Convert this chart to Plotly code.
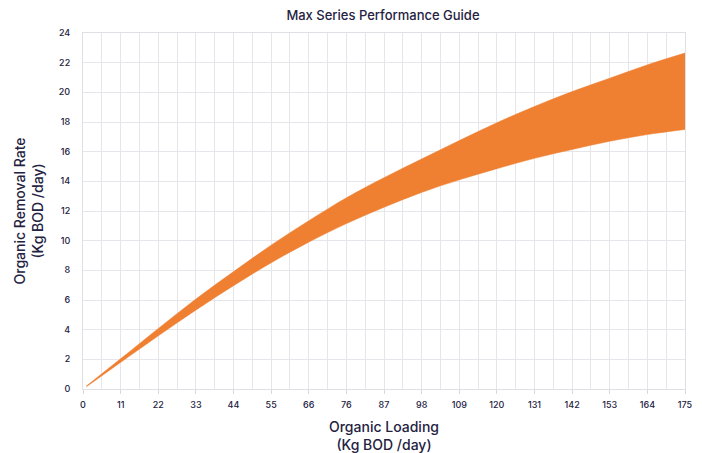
import plotly.graph_objects as go

# Organic loading positions (Kg BOD/day) where the band edges were read
loading = [1, 11, 22, 33, 44, 55, 66, 76.6, 87.5, 98.4, 109.4, 120.3, 131.25, 142.2, 153.1, 164, 175]
# Upper and lower edges of the performance band (Kg BOD/day removed)
removal_upper = [0.2, 2.05, 4.1, 6.1, 7.95, 9.75, 11.4, 12.9, 14.25, 15.5, 16.75, 17.95, 19.05, 20.05, 20.95, 21.85, 22.65]
removal_lower = [0.15, 1.8, 3.6, 5.35, 7.0, 8.55, 9.95, 11.15, 12.25, 13.25, 14.1, 14.85, 15.55, 16.15, 16.7, 17.15, 17.5]

# Axis ticks
x_tick_vals = [175 * k / 16 for k in range(17)]
x_tick_text = ["0", "11", "22", "33", "44", "55", "66", "76", "87", "98", "109",
               "120", "131", "142", "153", "164", "175"]
x_minor_vals = [175 * (2 * k + 1) / 32 for k in range(16)]
y_tick_vals = list(range(0, 25, 2))

orange = "#EF7F31"
navy = "#24223F"
grid = "#E6E6EA"

fig = go.Figure()
fig.add_trace(go.Scatter(x=loading, y=removal_lower, mode="lines",
                         line=dict(color=orange, width=0.5, shape="spline"),
                         hoverinfo="skip", showlegend=False))
fig.add_trace(go.Scatter(x=loading, y=removal_upper, mode="lines",
                         line=dict(color=orange, width=0.5, shape="spline"),
                         fill="tonexty", fillcolor=orange,
                         hoverinfo="skip", showlegend=False))

# The page body has an 8px default margin, so the figure is sized to the
# window minus that offset.
fig.update_layout(
    width=694, height=445,
    margin=dict(l=75, r=17, t=25, b=64, autoexpand=False),
    paper_bgcolor="white", plot_bgcolor="white",
    font=dict(family="Inter, Roboto, sans-serif", color=navy),
    title=dict(text="Max Series Performance Guide", x=0.5403, xanchor="center",
               xref="container", yref="container",
               y=0.984, yanchor="middle",
               font=dict(size=13, color=navy, weight=500), automargin=False),
    xaxis=dict(
        range=[0, 175], tickvals=x_tick_vals, ticktext=x_tick_text,
        tickfont=dict(size=9, color=navy, weight=500),
        ticks="outside", ticklen=4, tickcolor="#D8D8DC",
        showgrid=True, gridcolor=grid, gridwidth=1,
        minor=dict(tickvals=x_minor_vals, showgrid=True, gridcolor=grid, gridwidth=1),
        showline=True, linecolor="#E0E0E4", mirror=True, zeroline=False,
        automargin=False,
        title=dict(text="Organic Loading<br>(Kg BOD /day)",
                   font=dict(size=14, color=navy, weight=500), standoff=14),
        ticklabelstandoff=3,
    ),
    yaxis=dict(
        range=[0, 24], tickvals=y_tick_vals,
        tickfont=dict(size=9, color=navy, weight=500),
        showgrid=True, gridcolor=grid, gridwidth=1,
        showline=True, linecolor="#E0E0E4", mirror=True, zeroline=False,
        automargin=False,
        ticklabelstandoff=10,
        title=dict(text="Organic Removal Rate<br>(Kg BOD /day)",
                   font=dict(size=14, color=navy, weight=500), standoff=11),
    ),
)

fig.write_html("out.html")
